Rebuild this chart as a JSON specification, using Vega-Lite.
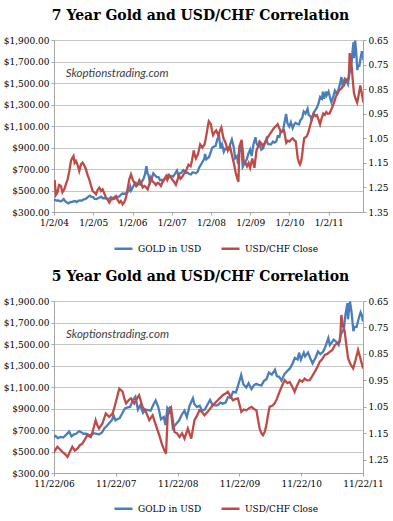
{
  "$schema": "https://vega.github.io/schema/vega-lite/v6.json",
  "background": "white",
  "padding": {"left": 3, "right": 0, "top": 9, "bottom": 0},
  "spacing": 16,
  "config": {
    "view": {"stroke": null},
    "font": "DejaVu Serif",
    "axis": {"labelFont": "DejaVu Serif", "labelFontSize": 9, "labelColor": "#000000", "domainColor": "#a6a6a6", "tickColor": "#a6a6a6", "tickSize": 3, "labelPadding": 2, "title": null, "gridColor": "#c6c6c6", "gridWidth": 1},
    "legend": {"labelFont": "DejaVu Serif", "labelFontSize": 9, "labelColor": "#000000"},
    "title": {"font": "DejaVu Serif", "fontSize": 14, "fontWeight": "bold", "color": "#000000"}
  },
  "resolve": {"scale": {"color": "independent"}, "legend": {"color": "independent"}},
  "datasets": {
    "note": [
      {"panel": "7", "date": "2004-04-20", "price": 1585, "text": "Skoptionstrading.com"},
      {"panel": "5", "date": "2007-02-01", "price": 1585, "text": "Skoptionstrading.com"}
    ],
    "gold": [
      {"date": "2004-01-02", "price": 418}, {"date": "2004-01-15", "price": 410}, {"date": "2004-02-01", "price": 405}, {"date": "2004-02-15", "price": 408},
      {"date": "2004-03-01", "price": 398}, {"date": "2004-03-15", "price": 404}, {"date": "2004-04-01", "price": 420}, {"date": "2004-04-15", "price": 400},
      {"date": "2004-05-01", "price": 388}, {"date": "2004-05-15", "price": 380}, {"date": "2004-06-01", "price": 392}, {"date": "2004-06-15", "price": 393},
      {"date": "2004-07-01", "price": 398}, {"date": "2004-07-15", "price": 402}, {"date": "2004-08-01", "price": 392}, {"date": "2004-08-15", "price": 405},
      {"date": "2004-09-01", "price": 408}, {"date": "2004-09-15", "price": 405}, {"date": "2004-10-01", "price": 415}, {"date": "2004-10-15", "price": 420},
      {"date": "2004-11-01", "price": 428}, {"date": "2004-11-15", "price": 440}, {"date": "2004-12-01", "price": 452}, {"date": "2004-12-15", "price": 440},
      {"date": "2005-01-01", "price": 438}, {"date": "2005-01-15", "price": 422}, {"date": "2005-02-01", "price": 420}, {"date": "2005-02-15", "price": 428},
      {"date": "2005-03-01", "price": 435}, {"date": "2005-03-15", "price": 442}, {"date": "2005-04-01", "price": 428}, {"date": "2005-04-15", "price": 430},
      {"date": "2005-05-01", "price": 428}, {"date": "2005-05-15", "price": 420}, {"date": "2005-06-01", "price": 425}, {"date": "2005-06-15", "price": 438},
      {"date": "2005-07-01", "price": 430}, {"date": "2005-07-15", "price": 422}, {"date": "2005-08-01", "price": 430}, {"date": "2005-08-15", "price": 440},
      {"date": "2005-09-01", "price": 445}, {"date": "2005-09-15", "price": 460}, {"date": "2005-10-01", "price": 472}, {"date": "2005-10-15", "price": 470},
      {"date": "2005-11-01", "price": 470}, {"date": "2005-11-15", "price": 482}, {"date": "2005-12-01", "price": 500}, {"date": "2005-12-12", "price": 535},
      {"date": "2005-12-20", "price": 500}, {"date": "2006-01-03", "price": 525}, {"date": "2006-01-15", "price": 550}, {"date": "2006-02-01", "price": 570},
      {"date": "2006-02-15", "price": 550}, {"date": "2006-03-01", "price": 565}, {"date": "2006-03-15", "price": 555}, {"date": "2006-04-01", "price": 585},
      {"date": "2006-04-15", "price": 610}, {"date": "2006-04-28", "price": 650}, {"date": "2006-05-11", "price": 725}, {"date": "2006-05-22", "price": 660},
      {"date": "2006-06-01", "price": 640}, {"date": "2006-06-14", "price": 570}, {"date": "2006-07-01", "price": 615}, {"date": "2006-07-15", "price": 660},
      {"date": "2006-08-01", "price": 640}, {"date": "2006-08-15", "price": 625}, {"date": "2006-09-01", "price": 625}, {"date": "2006-09-15", "price": 595},
      {"date": "2006-10-01", "price": 600}, {"date": "2006-10-15", "price": 585}, {"date": "2006-11-01", "price": 615}, {"date": "2006-11-22", "price": 635},
      {"date": "2006-12-01", "price": 645}, {"date": "2006-12-15", "price": 625}, {"date": "2007-01-01", "price": 635}, {"date": "2007-01-15", "price": 630},
      {"date": "2007-02-01", "price": 655}, {"date": "2007-02-20", "price": 685}, {"date": "2007-03-05", "price": 640}, {"date": "2007-03-20", "price": 660},
      {"date": "2007-04-01", "price": 665}, {"date": "2007-04-20", "price": 690}, {"date": "2007-05-01", "price": 680}, {"date": "2007-05-15", "price": 665},
      {"date": "2007-06-01", "price": 665}, {"date": "2007-06-15", "price": 655}, {"date": "2007-07-01", "price": 650}, {"date": "2007-07-15", "price": 670},
      {"date": "2007-08-01", "price": 665}, {"date": "2007-08-15", "price": 660}, {"date": "2007-09-01", "price": 675}, {"date": "2007-09-15", "price": 715},
      {"date": "2007-10-01", "price": 740}, {"date": "2007-10-15", "price": 765}, {"date": "2007-11-01", "price": 795}, {"date": "2007-11-08", "price": 840},
      {"date": "2007-11-20", "price": 790}, {"date": "2007-12-01", "price": 800}, {"date": "2007-12-15", "price": 810}, {"date": "2008-01-01", "price": 860},
      {"date": "2008-01-15", "price": 900}, {"date": "2008-02-01", "price": 910}, {"date": "2008-02-15", "price": 915}, {"date": "2008-03-01", "price": 975},
      {"date": "2008-03-17", "price": 1010}, {"date": "2008-04-01", "price": 890}, {"date": "2008-04-15", "price": 930}, {"date": "2008-05-01", "price": 860},
      {"date": "2008-05-15", "price": 890}, {"date": "2008-06-01", "price": 885}, {"date": "2008-06-15", "price": 880}, {"date": "2008-07-01", "price": 935},
      {"date": "2008-07-15", "price": 975}, {"date": "2008-08-01", "price": 905}, {"date": "2008-08-15", "price": 800}, {"date": "2008-09-01", "price": 820},
      {"date": "2008-09-11", "price": 745}, {"date": "2008-09-22", "price": 905}, {"date": "2008-10-01", "price": 885}, {"date": "2008-10-10", "price": 920},
      {"date": "2008-10-24", "price": 720}, {"date": "2008-11-01", "price": 735}, {"date": "2008-11-15", "price": 760}, {"date": "2008-12-01", "price": 790},
      {"date": "2008-12-15", "price": 840}, {"date": "2009-01-01", "price": 880}, {"date": "2009-01-15", "price": 820}, {"date": "2009-02-01", "price": 930},
      {"date": "2009-02-20", "price": 995}, {"date": "2009-03-01", "price": 940}, {"date": "2009-03-15", "price": 915}, {"date": "2009-04-01", "price": 925},
      {"date": "2009-04-15", "price": 880}, {"date": "2009-05-01", "price": 890}, {"date": "2009-05-15", "price": 930}, {"date": "2009-06-01", "price": 980},
      {"date": "2009-06-15", "price": 935}, {"date": "2009-07-01", "price": 930}, {"date": "2009-07-15", "price": 930}, {"date": "2009-08-01", "price": 955},
      {"date": "2009-08-15", "price": 945}, {"date": "2009-09-01", "price": 955}, {"date": "2009-09-15", "price": 1005}, {"date": "2009-10-01", "price": 1000},
      {"date": "2009-10-15", "price": 1055}, {"date": "2009-11-01", "price": 1050}, {"date": "2009-11-15", "price": 1120}, {"date": "2009-12-02", "price": 1212},
      {"date": "2009-12-15", "price": 1125}, {"date": "2010-01-01", "price": 1095}, {"date": "2010-01-15", "price": 1135}, {"date": "2010-02-01", "price": 1080},
      {"date": "2010-02-15", "price": 1115}, {"date": "2010-03-01", "price": 1130}, {"date": "2010-03-15", "price": 1120}, {"date": "2010-04-01", "price": 1115},
      {"date": "2010-04-15", "price": 1155}, {"date": "2010-05-01", "price": 1175}, {"date": "2010-05-15", "price": 1235}, {"date": "2010-06-01", "price": 1215},
      {"date": "2010-06-20", "price": 1260}, {"date": "2010-07-01", "price": 1200}, {"date": "2010-07-15", "price": 1195}, {"date": "2010-07-28", "price": 1160},
      {"date": "2010-08-15", "price": 1220}, {"date": "2010-09-01", "price": 1250}, {"date": "2010-09-15", "price": 1270}, {"date": "2010-10-01", "price": 1315},
      {"date": "2010-10-15", "price": 1370}, {"date": "2010-11-01", "price": 1355}, {"date": "2010-11-09", "price": 1420}, {"date": "2010-11-20", "price": 1355},
      {"date": "2010-12-07", "price": 1420}, {"date": "2010-12-15", "price": 1385}, {"date": "2011-01-01", "price": 1420}, {"date": "2011-01-15", "price": 1365},
      {"date": "2011-01-28", "price": 1320}, {"date": "2011-02-15", "price": 1375}, {"date": "2011-03-01", "price": 1430}, {"date": "2011-03-15", "price": 1405},
      {"date": "2011-04-01", "price": 1430}, {"date": "2011-04-15", "price": 1480}, {"date": "2011-05-01", "price": 1555}, {"date": "2011-05-10", "price": 1490},
      {"date": "2011-05-20", "price": 1510}, {"date": "2011-06-01", "price": 1540}, {"date": "2011-06-15", "price": 1525}, {"date": "2011-07-01", "price": 1490},
      {"date": "2011-07-15", "price": 1590}, {"date": "2011-08-01", "price": 1640}, {"date": "2011-08-10", "price": 1770}, {"date": "2011-08-22", "price": 1880},
      {"date": "2011-08-25", "price": 1730}, {"date": "2011-09-06", "price": 1895}, {"date": "2011-09-15", "price": 1800}, {"date": "2011-09-26", "price": 1620},
      {"date": "2011-10-04", "price": 1660}, {"date": "2011-10-15", "price": 1660}, {"date": "2011-10-28", "price": 1740}, {"date": "2011-11-08", "price": 1795},
      {"date": "2011-11-15", "price": 1770}, {"date": "2011-11-22", "price": 1710}
    ],
    "usdchf": [
      {"date": "2004-01-02", "close": 1.25}, {"date": "2004-01-08", "close": 1.22}, {"date": "2004-01-20", "close": 1.28}, {"date": "2004-02-04", "close": 1.27},
      {"date": "2004-02-18", "close": 1.24}, {"date": "2004-03-07", "close": 1.244}, {"date": "2004-03-20", "close": 1.27}, {"date": "2004-04-06", "close": 1.258},
      {"date": "2004-04-20", "close": 1.24}, {"date": "2004-05-08", "close": 1.217}, {"date": "2004-05-25", "close": 1.18}, {"date": "2004-06-08", "close": 1.142},
      {"date": "2004-06-20", "close": 1.13}, {"date": "2004-07-02", "close": 1.122}, {"date": "2004-07-12", "close": 1.15}, {"date": "2004-07-24", "close": 1.142},
      {"date": "2004-08-10", "close": 1.16}, {"date": "2004-08-24", "close": 1.183}, {"date": "2004-09-10", "close": 1.155}, {"date": "2004-09-24", "close": 1.149},
      {"date": "2004-10-10", "close": 1.16}, {"date": "2004-10-25", "close": 1.176}, {"date": "2004-11-10", "close": 1.2}, {"date": "2004-11-25", "close": 1.217},
      {"date": "2004-12-10", "close": 1.24}, {"date": "2004-12-27", "close": 1.265}, {"date": "2005-01-12", "close": 1.27}, {"date": "2005-01-27", "close": 1.278},
      {"date": "2005-02-12", "close": 1.26}, {"date": "2005-02-27", "close": 1.251}, {"date": "2005-03-15", "close": 1.265}, {"date": "2005-03-30", "close": 1.258},
      {"date": "2005-04-15", "close": 1.275}, {"date": "2005-04-30", "close": 1.292}, {"date": "2005-05-15", "close": 1.3}, {"date": "2005-05-31", "close": 1.312},
      {"date": "2005-06-15", "close": 1.3}, {"date": "2005-07-01", "close": 1.298}, {"date": "2005-07-15", "close": 1.29}, {"date": "2005-08-01", "close": 1.285},
      {"date": "2005-08-15", "close": 1.3}, {"date": "2005-09-01", "close": 1.312}, {"date": "2005-09-15", "close": 1.305}, {"date": "2005-10-02", "close": 1.319},
      {"date": "2005-10-17", "close": 1.31}, {"date": "2005-11-02", "close": 1.292}, {"date": "2005-11-20", "close": 1.25}, {"date": "2005-12-03", "close": 1.217},
      {"date": "2005-12-19", "close": 1.197}, {"date": "2006-01-05", "close": 1.22}, {"date": "2006-01-19", "close": 1.231}, {"date": "2006-02-05", "close": 1.245},
      {"date": "2006-02-19", "close": 1.237}, {"date": "2006-03-07", "close": 1.22}, {"date": "2006-03-22", "close": 1.231}, {"date": "2006-04-07", "close": 1.25},
      {"date": "2006-04-22", "close": 1.244}, {"date": "2006-05-08", "close": 1.25}, {"date": "2006-05-23", "close": 1.258}, {"date": "2006-06-08", "close": 1.235},
      {"date": "2006-06-23", "close": 1.21}, {"date": "2006-07-08", "close": 1.225}, {"date": "2006-07-24", "close": 1.231}, {"date": "2006-08-08", "close": 1.24},
      {"date": "2006-08-24", "close": 1.231}, {"date": "2006-09-08", "close": 1.235}, {"date": "2006-09-24", "close": 1.244}, {"date": "2006-10-10", "close": 1.225},
      {"date": "2006-10-25", "close": 1.217}, {"date": "2006-11-10", "close": 1.204}, {"date": "2006-11-22", "close": 1.22}, {"date": "2006-12-12", "close": 1.201},
      {"date": "2006-12-27", "close": 1.21}, {"date": "2007-01-10", "close": 1.22}, {"date": "2007-01-25", "close": 1.228}, {"date": "2007-02-10", "close": 1.239},
      {"date": "2007-02-24", "close": 1.22}, {"date": "2007-03-10", "close": 1.201}, {"date": "2007-03-25", "close": 1.215}, {"date": "2007-04-09", "close": 1.208},
      {"date": "2007-04-24", "close": 1.195}, {"date": "2007-05-08", "close": 1.189}, {"date": "2007-05-22", "close": 1.175}, {"date": "2007-06-07", "close": 1.157},
      {"date": "2007-06-27", "close": 1.164}, {"date": "2007-07-10", "close": 1.14}, {"date": "2007-07-26", "close": 1.1}, {"date": "2007-08-05", "close": 1.12},
      {"date": "2007-08-15", "close": 1.132}, {"date": "2007-09-04", "close": 1.113}, {"date": "2007-09-14", "close": 1.095}, {"date": "2007-09-24", "close": 1.075},
      {"date": "2007-10-14", "close": 1.088}, {"date": "2007-11-03", "close": 1.075}, {"date": "2007-11-13", "close": 1.055}, {"date": "2007-11-23", "close": 1.031},
      {"date": "2007-12-05", "close": 1.0}, {"date": "2007-12-13", "close": 0.981}, {"date": "2008-01-02", "close": 0.993}, {"date": "2008-01-12", "close": 1.02},
      {"date": "2008-01-22", "close": 1.037}, {"date": "2008-02-05", "close": 1.025}, {"date": "2008-02-20", "close": 1.018}, {"date": "2008-03-10", "close": 1.037},
      {"date": "2008-03-25", "close": 1.02}, {"date": "2008-04-08", "close": 1.006}, {"date": "2008-04-28", "close": 1.05}, {"date": "2008-05-18", "close": 1.069},
      {"date": "2008-06-07", "close": 1.1}, {"date": "2008-06-27", "close": 1.082}, {"date": "2008-07-16", "close": 1.119}, {"date": "2008-08-05", "close": 1.157},
      {"date": "2008-08-20", "close": 1.19}, {"date": "2008-09-04", "close": 1.214}, {"date": "2008-09-14", "close": 1.227}, {"date": "2008-09-24", "close": 1.082},
      {"date": "2008-10-14", "close": 1.056}, {"date": "2008-10-24", "close": 1.1}, {"date": "2008-11-03", "close": 1.145}, {"date": "2008-11-18", "close": 1.15},
      {"date": "2008-12-03", "close": 1.164}, {"date": "2008-12-18", "close": 1.15}, {"date": "2009-01-01", "close": 1.17}, {"date": "2009-01-21", "close": 1.132},
      {"date": "2009-02-10", "close": 1.17}, {"date": "2009-03-01", "close": 1.1}, {"date": "2009-03-15", "close": 1.085}, {"date": "2009-03-30", "close": 1.063},
      {"date": "2009-04-15", "close": 1.07}, {"date": "2009-04-29", "close": 1.082}, {"date": "2009-05-18", "close": 1.069}, {"date": "2009-06-17", "close": 1.044},
      {"date": "2009-07-01", "close": 1.035}, {"date": "2009-07-16", "close": 1.025}, {"date": "2009-08-01", "close": 1.015}, {"date": "2009-08-15", "close": 1.006},
      {"date": "2009-09-01", "close": 1.0}, {"date": "2009-09-14", "close": 0.993}, {"date": "2009-10-01", "close": 1.01}, {"date": "2009-10-14", "close": 1.025},
      {"date": "2009-11-01", "close": 1.02}, {"date": "2009-11-13", "close": 1.018}, {"date": "2009-12-03", "close": 1.069}, {"date": "2009-12-18", "close": 1.06},
      {"date": "2010-01-02", "close": 1.063}, {"date": "2010-01-18", "close": 1.055}, {"date": "2010-02-01", "close": 1.05}, {"date": "2010-02-15", "close": 1.058},
      {"date": "2010-03-02", "close": 1.063}, {"date": "2010-03-21", "close": 1.132}, {"date": "2010-04-01", "close": 1.15}, {"date": "2010-04-10", "close": 1.157},
      {"date": "2010-04-20", "close": 1.145}, {"date": "2010-04-30", "close": 1.119}, {"date": "2010-05-10", "close": 1.08}, {"date": "2010-05-19", "close": 1.05},
      {"date": "2010-06-05", "close": 1.045}, {"date": "2010-06-18", "close": 1.037}, {"date": "2010-07-01", "close": 1.02}, {"date": "2010-07-17", "close": 0.993},
      {"date": "2010-08-01", "close": 0.97}, {"date": "2010-08-16", "close": 0.949}, {"date": "2010-09-01", "close": 0.96}, {"date": "2010-09-15", "close": 0.956},
      {"date": "2010-10-01", "close": 0.975}, {"date": "2010-10-14", "close": 0.993}, {"date": "2010-10-28", "close": 0.97}, {"date": "2010-11-13", "close": 0.949},
      {"date": "2010-11-28", "close": 0.955}, {"date": "2010-12-12", "close": 0.943}, {"date": "2010-12-27", "close": 0.95}, {"date": "2011-01-11", "close": 0.949},
      {"date": "2011-01-25", "close": 0.935}, {"date": "2011-02-10", "close": 0.918}, {"date": "2011-02-25", "close": 0.9}, {"date": "2011-03-11", "close": 0.88},
      {"date": "2011-03-25", "close": 0.87}, {"date": "2011-04-10", "close": 0.854}, {"date": "2011-04-25", "close": 0.85}, {"date": "2011-05-09", "close": 0.842},
      {"date": "2011-05-25", "close": 0.835}, {"date": "2011-06-08", "close": 0.817}, {"date": "2011-06-22", "close": 0.81}, {"date": "2011-07-07", "close": 0.804},
      {"date": "2011-07-12", "close": 0.77}, {"date": "2011-07-17", "close": 0.703}, {"date": "2011-07-25", "close": 0.74}, {"date": "2011-08-06", "close": 0.766},
      {"date": "2011-08-16", "close": 0.82}, {"date": "2011-08-26", "close": 0.867}, {"date": "2011-09-10", "close": 0.89}, {"date": "2011-09-25", "close": 0.905},
      {"date": "2011-10-10", "close": 0.87}, {"date": "2011-10-24", "close": 0.835}, {"date": "2011-11-08", "close": 0.87}, {"date": "2011-11-22", "close": 0.905}
    ]
  },
  "vconcat": [
    {
      "title": {"text": "7 Year Gold and USD/CHF Correlation", "offset": 13, "dx": -8},
      "width": 309,
      "height": 172,
      "layer": [
        {
          "data": {"name": "gold"},
          "mark": {"type": "line", "strokeWidth": 2.3, "clip": true},
          "encoding": {
            "x": {"field": "date", "type": "temporal",
              "scale": {"type": "utc", "domain": [{"year": 2004, "month": 1, "date": 2, "utc": true}, {"year": 2011, "month": 11, "date": 18, "utc": true}]},
              "axis": {"values": [{"year": 2004, "month": 1, "date": 2, "utc": true}, {"year": 2005, "month": 1, "date": 2, "utc": true}, {"year": 2006, "month": 1, "date": 2, "utc": true}, {"year": 2007, "month": 1, "date": 2, "utc": true}, {"year": 2008, "month": 1, "date": 2, "utc": true}, {"year": 2009, "month": 1, "date": 2, "utc": true}, {"year": 2010, "month": 1, "date": 2, "utc": true}, {"year": 2011, "month": 1, "date": 2, "utc": true}],
                "format": "%-m/%-d/%y", "grid": false, "labelOverlap": false, "labelFlush": false, "labelPadding": 3}},
            "y": {"field": "price", "type": "quantitative", "scale": {"domain": [300, 1900], "nice": false, "zero": false},
              "axis": {"values": [300, 500, 700, 900, 1100, 1300, 1500, 1700, 1900], "format": "$,.2f", "grid": true}},
            "color": {"datum": "GOLD in USD", "scale": {"domain": ["GOLD in USD", "USD/CHF Close"], "range": ["#4a7ebb", "#be4b48"]},
              "legend": {"orient": "none", "legendX": 59, "legendY": 198, "direction": "horizontal", "title": null, "symbolType": "stroke", "symbolSize": 324, "symbolStrokeWidth": 2.5, "columnPadding": 14}}
          }
        },
        {
          "data": {"name": "usdchf"},
          "mark": {"type": "line", "strokeWidth": 2.3, "clip": true},
          "encoding": {
            "x": {"field": "date", "type": "temporal"},
            "y": {"field": "close", "type": "quantitative", "scale": {"domain": [0.65, 1.35], "reverse": true, "nice": false, "zero": false},
              "axis": {"orient": "right", "values": [0.65, 0.75, 0.85, 0.95, 1.05, 1.15, 1.25, 1.35], "format": ".2f", "grid": false}},
            "color": {"datum": "USD/CHF Close"}
          }
        },
        {
          "data": {"name": "note"},
          "transform": [{"filter": "datum.panel == '7'"}],
          "mark": {"type": "text", "align": "left", "baseline": "middle", "font": "Lato", "fontStyle": "italic", "fontSize": 11.5, "color": "#404040"},
          "encoding": {
            "x": {"field": "date", "type": "temporal"},
            "y": {"field": "price", "type": "quantitative", "scale": {"domain": [300, 1900], "nice": false, "zero": false}, "axis": null},
            "text": {"field": "text"}
          }
        }
      ],
      "resolve": {"scale": {"y": "independent"}}
    },
    {
      "title": {"text": "5 Year Gold and USD/CHF Correlation", "offset": 13, "dx": -8},
      "width": 309,
      "height": 172,
      "layer": [
        {
          "data": {"name": "gold"},
          "mark": {"type": "line", "strokeWidth": 2.3, "clip": true},
          "encoding": {
            "x": {"field": "date", "type": "temporal",
              "scale": {"type": "utc", "domain": [{"year": 2006, "month": 11, "date": 22, "utc": true}, {"year": 2011, "month": 11, "date": 22, "utc": true}]},
              "axis": {"values": [{"year": 2006, "month": 11, "date": 22, "utc": true}, {"year": 2007, "month": 11, "date": 22, "utc": true}, {"year": 2008, "month": 11, "date": 22, "utc": true}, {"year": 2009, "month": 11, "date": 22, "utc": true}, {"year": 2010, "month": 11, "date": 22, "utc": true}, {"year": 2011, "month": 11, "date": 22, "utc": true}],
                "format": "%-m/%-d/%y", "grid": false, "labelOverlap": false, "labelFlush": false, "labelPadding": 3}},
            "y": {"field": "price", "type": "quantitative", "scale": {"domain": [300, 1900], "nice": false, "zero": false},
              "axis": {"values": [300, 500, 700, 900, 1100, 1300, 1500, 1700, 1900], "format": "$,.2f", "grid": true}},
            "color": {"datum": "GOLD in USD", "scale": {"domain": ["GOLD in USD", "USD/CHF Close"], "range": ["#4a7ebb", "#be4b48"]},
              "legend": {"orient": "none", "legendX": 59, "legendY": 197, "direction": "horizontal", "title": null, "symbolType": "stroke", "symbolSize": 324, "symbolStrokeWidth": 2.5, "columnPadding": 14}}
          }
        },
        {
          "data": {"name": "usdchf"},
          "mark": {"type": "line", "strokeWidth": 2.3, "clip": true},
          "encoding": {
            "x": {"field": "date", "type": "temporal"},
            "y": {"field": "close", "type": "quantitative", "scale": {"domain": [0.65, 1.3], "reverse": true, "nice": false, "zero": false},
              "axis": {"orient": "right", "values": [0.65, 0.75, 0.85, 0.95, 1.05, 1.15, 1.25], "format": ".2f", "grid": false}},
            "color": {"datum": "USD/CHF Close"}
          }
        },
        {
          "data": {"name": "note"},
          "transform": [{"filter": "datum.panel == '5'"}],
          "mark": {"type": "text", "align": "left", "baseline": "middle", "font": "Lato", "fontStyle": "italic", "fontSize": 11.5, "color": "#404040"},
          "encoding": {
            "x": {"field": "date", "type": "temporal"},
            "y": {"field": "price", "type": "quantitative", "scale": {"domain": [300, 1900], "nice": false, "zero": false}, "axis": null},
            "text": {"field": "text"}
          }
        }
      ],
      "resolve": {"scale": {"y": "independent"}}
    }
  ]
}
